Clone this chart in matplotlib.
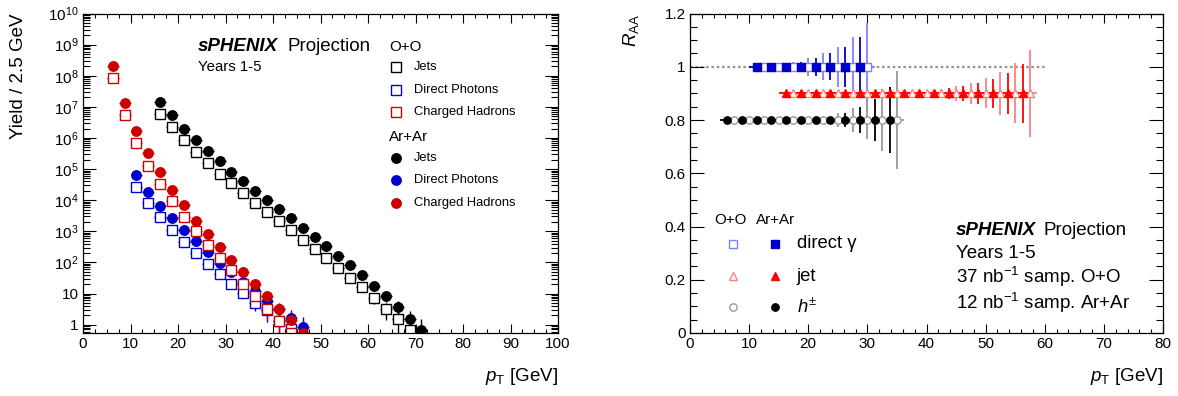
import numpy as np
import matplotlib
matplotlib.use('Agg')
import matplotlib.pyplot as plt
from matplotlib.ticker import MultipleLocator, LogLocator, FuncFormatter, NullFormatter

plt.rcParams['font.family'] = ['Liberation Sans', 'DejaVu Sans']
plt.rcParams['mathtext.fontset'] = 'custom'
plt.rcParams['mathtext.rm'] = 'Liberation Sans'
plt.rcParams['mathtext.it'] = 'Liberation Sans:italic'
plt.rcParams['mathtext.bf'] = 'Liberation Sans:bold'

# ---------------- Left panel data: yields per 2.5 GeV ----------------
pt_jets_ArAr = [16.25, 18.75, 21.25, 23.75, 26.25, 28.75, 31.25, 33.75, 36.25, 38.75, 41.25, 43.75,
                46.25, 48.75, 51.25, 53.75, 56.25, 58.75, 61.25, 63.75, 66.25, 68.75, 71.25]
yield_jets_ArAr = [1.45e7, 5.4e6, 2.0e6, 8.5e5, 3.7e5, 1.8e5, 8.1e4, 4.2e4, 2.0e4, 1.0e4, 5.1e3, 2.6e3,
                   1.3e3, 660, 330, 160, 81, 39, 17, 8.1, 3.7, 1.55, 0.66]
pt_jets_OO = [16.25, 18.75, 21.25, 23.75, 26.25, 28.75, 31.25, 33.75, 36.25, 38.75, 41.25, 43.75,
              46.25, 48.75, 51.25, 53.75, 56.25, 58.75, 61.25, 63.75, 66.25, 68.75]
yield_jets_OO = [6.0e6, 2.2e6, 8.5e5, 3.5e5, 1.6e5, 7.2e4, 3.5e4, 1.7e4, 8.3e3, 4.3e3, 2.1e3, 1.07e3,
                 540, 275, 138, 68, 32, 16, 7.4, 3.2, 1.55, 0.69]
pt_had_ArAr = [6.25, 8.75, 11.25, 13.75, 16.25, 18.75, 21.25, 23.75, 26.25, 28.75, 31.25, 33.75,
               36.25, 38.75, 41.25, 43.75, 46.25]
yield_had_ArAr = [2.0e8, 1.3e7, 1.7e6, 3.2e5, 7.8e4, 2.2e4, 6.9e3, 2.2e3, 850, 320, 123, 49,
                  20, 8.1, 3.2, 1.4, 0.54]
pt_had_OO = [6.25, 8.75, 11.25, 13.75, 16.25, 18.75, 21.25, 23.75, 26.25, 28.75, 31.25, 33.75,
             36.25, 38.75, 41.25, 43.75]
yield_had_OO = [8.5e7, 5.4e6, 7.1e5, 1.3e5, 3.4e4, 9.3e3, 2.9e3, 1.0e3, 360, 138, 56, 21,
                8.5, 3.2, 1.35, 0.56]
pt_pho_ArAr = [11.25, 13.75, 16.25, 18.75, 21.25, 23.75, 26.25, 28.75, 31.25, 33.75, 36.25, 38.75,
               41.25, 43.75, 46.25]
yield_pho_ArAr = [6.3e4, 1.8e4, 6.5e3, 2.6e3, 1.07e3, 480, 210, 98, 48, 24, 12, 5.9, 3.2, 1.6, 0.83]
pt_pho_OO = [11.25, 13.75, 16.25, 18.75, 21.25, 23.75, 26.25, 28.75, 31.25, 33.75, 36.25, 38.75,
             41.25, 43.75]
yield_pho_OO = [2.6e4, 7.9e3, 2.8e3, 1.07e3, 450, 195, 91, 44, 20, 10.2, 4.9, 2.9, 1.35, 0.71]
bin_half_width = 1.25

# ---------------- Right panel data: R_AA projections ----------------
pt_gam_OO = [12.5, 15, 17.5, 20, 22.5, 25, 27.5, 30]
raa_gam_OO = [1.0, 1.0, 1.0, 1.0, 1.0, 1.0, 1.0, 1.0]
err_gam_OO = [0.005, 0.008, 0.019, 0.033, 0.05, 0.075, 0.11, 0.163]
pt_gam_ArAr = [11.25, 13.75, 16.25, 18.75, 21.25, 23.75, 26.25, 28.75]
raa_gam_ArAr = [1.0, 1.0, 1.0, 1.0, 1.0, 1.0, 1.0, 1.0]
err_gam_ArAr = [0.003, 0.005, 0.008, 0.019, 0.033, 0.051, 0.076, 0.11]

pt_jet_OO = [17.5, 20, 22.5, 25, 27.5, 30, 32.5, 35, 37.5, 40, 42.5, 45, 47.5, 50, 52.5, 55, 57.5]
raa_jet_OO = [0.9] * 17
err_jet_OO = [0.002, 0.002, 0.002, 0.002, 0.003, 0.003, 0.004, 0.005, 0.008, 0.012, 0.017, 0.027,
              0.04, 0.056, 0.08, 0.113, 0.164]
pt_jet_ArAr = [16.25, 18.75, 21.25, 23.75, 26.25, 28.75, 31.25, 33.75, 36.25, 38.75, 41.25, 43.75,
               46.25, 48.75, 51.25, 53.75, 56.25]
raa_jet_ArAr = [0.9] * 17
err_jet_ArAr = [0.002, 0.002, 0.002, 0.002, 0.002, 0.003, 0.003, 0.004, 0.006, 0.009, 0.013, 0.02,
                0.027, 0.039, 0.054, 0.078, 0.111]

pt_h_OO = [7.5, 10, 12.5, 15, 17.5, 20, 22.5, 25, 27.5, 30, 32.5, 35]
raa_h_OO = [0.8] * 12
err_h_OO = [0.001, 0.001, 0.001, 0.001, 0.002, 0.004, 0.011, 0.026, 0.046, 0.071, 0.117, 0.183]
pt_h_ArAr = [6.25, 8.75, 11.25, 13.75, 16.25, 18.75, 21.25, 23.75, 26.25, 28.75, 31.25, 33.75]
raa_h_ArAr = [0.8] * 12
err_h_ArAr = [0.001, 0.001, 0.001, 0.001, 0.001, 0.002, 0.005, 0.013, 0.028, 0.05, 0.078, 0.125]

ref_x = [0, 60]
ref_y = [1, 1]

RED = '#cc0000'
BLUE = '#0000cc'
BLACK = '#000000'

fig = plt.figure(figsize=(11.78, 3.96), dpi=100)
axL = fig.add_axes([83 / 1178, 63 / 396, 475 / 1178, 319.5 / 396])
axR = fig.add_axes([690 / 1178, 63 / 396, 473 / 1178, 319.5 / 396])


def style_axes(ax, xmaj_len, xmin_len, ymaj_len, ymin_len):
    ax.tick_params(which='both', direction='in', top=True, right=True, width=0.8,
                   labelsize=11, colors='black')
    ax.tick_params(axis='x', which='major', length=xmaj_len, pad=3)
    ax.tick_params(axis='x', which='minor', length=xmin_len)
    ax.tick_params(axis='y', which='major', length=ymaj_len, pad=3)
    ax.tick_params(axis='y', which='minor', length=ymin_len)
    for s in ax.spines.values():
        s.set_linewidth(0.9)


# ---------------- Left panel ----------------
def spectrum(ax, x, y, color, open_marker):
    y = np.asarray(y, dtype=float)
    err = np.sqrt(y)
    lo = np.minimum(err, y * 0.99)
    if open_marker:
        ax.errorbar(x, y, xerr=bin_half_width, yerr=[lo, err], fmt='s', ms=6.6,
                    mfc='white', mec=color, mew=1.0, ecolor=color, elinewidth=1.0,
                    capsize=0)
    else:
        ax.errorbar(x, y, xerr=bin_half_width, yerr=[lo, err], fmt='o', ms=6.8,
                    mfc=color, mec=color, ecolor=color, elinewidth=1.0, capsize=0)


spectrum(axL, pt_jets_OO, yield_jets_OO, BLACK, True)
spectrum(axL, pt_jets_ArAr, yield_jets_ArAr, BLACK, False)
spectrum(axL, pt_pho_OO, yield_pho_OO, BLUE, True)
spectrum(axL, pt_pho_ArAr, yield_pho_ArAr, BLUE, False)
spectrum(axL, pt_had_OO, yield_had_OO, RED, True)
spectrum(axL, pt_had_ArAr, yield_had_ArAr, RED, False)

axL.set_yscale('log')
axL.set_xlim(0, 100)
axL.set_ylim(0.54, 1e10)
axL.xaxis.set_major_locator(MultipleLocator(10))
axL.xaxis.set_minor_locator(MultipleLocator(2.5))
axL.yaxis.set_major_locator(LogLocator(base=10, numticks=20))
axL.yaxis.set_minor_locator(LogLocator(base=10, subs=np.arange(2, 10), numticks=200))
axL.yaxis.set_minor_formatter(NullFormatter())


def log_fmt(v, pos):
    e = int(round(np.log10(v)))
    if e == 0:
        return '1'
    if e == 1:
        return '10'
    return r'$\mathregular{10^{%d}}$' % e


axL.yaxis.set_major_formatter(FuncFormatter(log_fmt))
style_axes(axL, 6.5, 3.2, 9.4, 5.0)

axL.set_xlabel(r'$p_{\mathrm{T}}$ [GeV]', loc='right', fontsize=13.5, labelpad=11)
axL.set_ylabel('Yield / 2.5 GeV', loc='top', fontsize=13.5)
axL.yaxis.set_label_coords(-0.118, 1.0)

tL = axL.transAxes
axL.text(0.242, 0.896, 'sPHENIX', transform=tL, fontsize=13.5, fontweight='bold',
         fontstyle='italic', va='center', ha='left')
axL.text(0.430, 0.896, 'Projection', transform=tL, fontsize=13.5, va='center', ha='left')
axL.text(0.242, 0.831, 'Years 1-5', transform=tL, fontsize=10.8, va='center', ha='left')

axL.text(0.644, 0.896, 'O+O', transform=tL, fontsize=10.9, va='center', ha='left')
axL.text(0.644, 0.614, 'Ar+Ar', transform=tL, fontsize=10.9, va='center', ha='left')
leg_rows_OO = [0.831, 0.761, 0.693]
leg_rows_ArAr = [0.549, 0.480, 0.408]
leg_names = ['Jets', 'Direct Photons', 'Charged Hadrons']
leg_cols = [BLACK, BLUE, RED]
for yr, name, c in zip(leg_rows_OO, leg_names, leg_cols):
    axL.plot([0.659], [yr], transform=tL, marker='s', ms=6.6, mfc='white', mec=c,
             mew=1.0, ls='none', clip_on=False)
    axL.text(0.697, yr, name, transform=tL, fontsize=9.3, va='center', ha='left')
for yr, name, c in zip(leg_rows_ArAr, leg_names, leg_cols):
    axL.plot([0.659], [yr], transform=tL, marker='o', ms=6.8, mfc=c, mec=c,
             ls='none', clip_on=False)
    axL.text(0.697, yr, name, transform=tL, fontsize=9.3, va='center', ha='left')

# ---------------- Right panel ----------------
LRED = '#ff8080'
LBLUE = '#8080ff'
GRAY = '#999999'

axR.plot(ref_x, ref_y, ls=(0, (1.2, 1.2)), color=GRAY, lw=1.6, zorder=1)


def raa_bars(ax, x, y, e, color, z):
    ax.errorbar(x, y, xerr=bin_half_width, yerr=e, fmt='none', ecolor=color,
                elinewidth=1.3, capsize=0, zorder=z)


def raa_marks(ax, x, y, marker, color, open_marker, ms, z):
    if open_marker:
        ax.plot(x, y, ls='none', marker=marker, ms=ms, mfc='white', mec=color, mew=1.0,
                zorder=z)
    else:
        ax.plot(x, y, ls='none', marker=marker, ms=ms, mfc=color, mec=color, zorder=z)


raa_bars(axR, pt_jet_OO, raa_jet_OO, err_jet_OO, LRED, 2.0)
raa_bars(axR, pt_jet_ArAr, raa_jet_ArAr, err_jet_ArAr, '#ff0000', 2.1)
raa_bars(axR, pt_gam_OO, raa_gam_OO, err_gam_OO, LBLUE, 2.2)
raa_bars(axR, pt_gam_ArAr, raa_gam_ArAr, err_gam_ArAr, BLUE, 2.3)
raa_bars(axR, pt_h_OO, raa_h_OO, err_h_OO, GRAY, 2.4)
raa_bars(axR, pt_h_ArAr, raa_h_ArAr, err_h_ArAr, BLACK, 2.5)

raa_marks(axR, pt_jet_OO, raa_jet_OO, '^', LRED, True, 5.5, 3.0)
raa_marks(axR, pt_jet_ArAr, raa_jet_ArAr, '^', '#ff0000', False, 5.5, 3.1)
raa_marks(axR, pt_gam_OO, raa_gam_OO, 's', LBLUE, True, 6.2, 3.2)
raa_marks(axR, pt_gam_ArAr, raa_gam_ArAr, 's', BLUE, False, 6.2, 3.3)
raa_marks(axR, pt_h_OO, raa_h_OO, 'o', GRAY, True, 5.3, 3.4)
raa_marks(axR, pt_h_ArAr, raa_h_ArAr, 'o', BLACK, False, 5.3, 3.5)

axR.set_xlim(0, 80)
axR.set_ylim(0, 1.2)
axR.xaxis.set_major_locator(MultipleLocator(10))
axR.xaxis.set_minor_locator(MultipleLocator(2))
axR.yaxis.set_major_locator(MultipleLocator(0.2))
axR.yaxis.set_minor_locator(MultipleLocator(0.05))
axR.yaxis.set_major_formatter(FuncFormatter(lambda v, p: '%g' % round(v, 2)))
style_axes(axR, 6.7, 3.2, 10.0, 5.0)

axR.set_xlabel(r'$p_{\mathrm{T}}$ [GeV]', loc='right', fontsize=13.5, labelpad=11)
axR.set_ylabel(r'$R_{\mathrm{AA}}$', loc='top', fontsize=13.5)
axR.yaxis.set_label_coords(-0.103, 1.0)

tR = axR.transAxes
axR.text(0.0507, 0.354, 'O+O', transform=tR, fontsize=10.9, va='center', ha='left')
axR.text(0.1395, 0.354, 'Ar+Ar', transform=tR, fontsize=10.9, va='center', ha='left')
legR_rows = [0.2795, 0.178, 0.0814]
legR_names = [r'direct γ', 'jet', r'$h^{\pm}$']
legR_open = [('s', LBLUE, 6.2), ('^', LRED, 5.5), ('o', GRAY, 5.3)]
legR_fill = [('s', BLUE, 6.2), ('^', '#ff0000', 5.5), ('o', BLACK, 5.3)]
for yr, name, (mo, co, so), (mf, cf, sf) in zip(legR_rows, legR_names, legR_open, legR_fill):
    axR.plot([0.0915], [yr], transform=tR, marker=mo, ms=so, mfc='white', mec=co, mew=1.0,
             ls='none', clip_on=False)
    axR.plot([0.180], [yr], transform=tR, marker=mf, ms=sf, mfc=cf, mec=cf,
             ls='none', clip_on=False)
    axR.text(0.226, yr, name, transform=tR, fontsize=13.3, va='center', ha='left')

axR.text(0.5617, 0.322, 'sPHENIX', transform=tR, fontsize=13.5, fontweight='bold',
         fontstyle='italic', va='center', ha='left')
axR.text(0.7484, 0.322, 'Projection', transform=tR, fontsize=13.5, va='center', ha='left')
axR.text(0.5617, 0.2495, 'Years 1-5', transform=tR, fontsize=13.5, va='center', ha='left')
axR.text(0.5617, 0.174, r'37 nb$^{-1}$ samp. O+O', transform=tR, fontsize=13.5,
         va='center', ha='left')
axR.text(0.5617, 0.095, r'12 nb$^{-1}$ samp. Ar+Ar', transform=tR, fontsize=13.5,
         va='center', ha='left')

fig.savefig('out.png', dpi=100)
